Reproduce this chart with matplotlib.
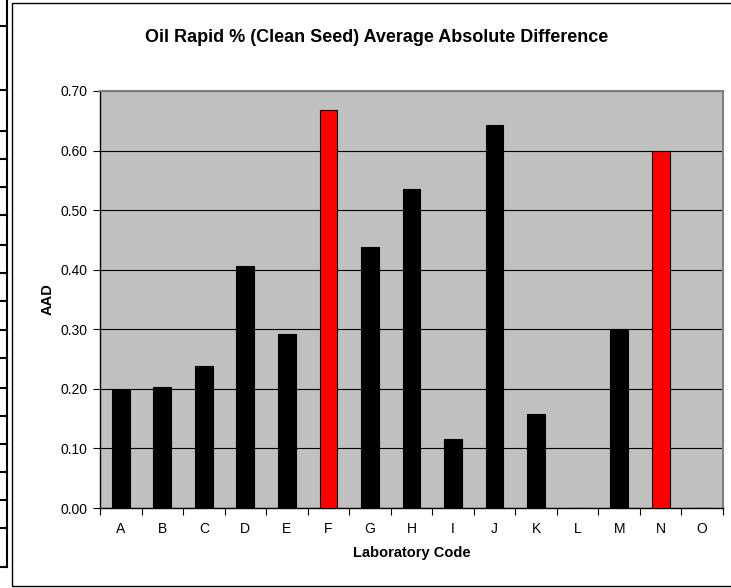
import matplotlib.pyplot as plt
from matplotlib.lines import Line2D
from matplotlib.patches import Rectangle
import numpy as np

plt.rcParams['font.family'] = ['Liberation Sans', 'DejaVu Sans']

labs = ['A', 'B', 'C', 'D', 'E', 'F', 'G', 'H', 'I', 'J', 'K', 'L', 'M', 'N', 'O']
aad = [0.198, 0.203, 0.239, 0.406, 0.292, 0.668, 0.438, 0.535, 0.116, 0.643,
       0.158, 0.0, 0.300, 0.600, 0.0]
flagged = ['F', 'N']

W, H = 731, 588
fig = plt.figure(figsize=(W / 100, H / 100), dpi=100)

# spreadsheet cell lines peeking out on the left edge
row_lines = [26, 90, 131, 159, 187, 215, 245, 273, 301, 330, 358, 388, 416,
             444, 472, 500, 528, 567]
fig.add_artist(Line2D([7 / W, 7 / W], [1, 1 - 567 / H], color='black', lw=1.5,
                      transform=fig.transFigure))
for y in row_lines:
    fig.add_artist(Line2D([0, 7 / W], [1 - y / H, 1 - y / H], color='black',
                          lw=1.5, transform=fig.transFigure))

# chart area frame
fig.add_artist(Rectangle((12 / W, 1 - 586 / H), 1.0, (586 - 3) / H,
                         transform=fig.transFigure, fill=False,
                         edgecolor='black', lw=1.0))

ax = fig.add_axes([100 / W, (H - 508) / H, 623 / W, 417 / H])
ax.set_facecolor('#c0c0c0')

x = np.arange(len(labs))
colors = ['red' if l in flagged else 'black' for l in labs]
ax.bar(x, aad, width=0.43, color=colors, edgecolor='black', linewidth=0.8,
       zorder=3)

ax.set_xlim(-0.5, len(labs) - 0.5)
ax.set_ylim(0, 0.70)
ax.set_yticks(np.arange(0, 0.71, 0.1))
ax.set_yticklabels(['%.2f' % v for v in np.arange(0, 0.71, 0.1)])
ax.yaxis.grid(True, color='black', lw=0.8, zorder=1)
ax.set_axisbelow(True)

ax.set_xticks(x)
ax.set_xticklabels(labs)
ax.set_xticks(np.arange(-0.5, len(labs)), minor=True)
ax.tick_params(axis='x', which='major', length=0, pad=10)
ax.tick_params(axis='x', which='minor', length=5, direction='out', width=0.8)
ax.tick_params(axis='y', length=5, direction='out', width=0.8, pad=4)
ax.tick_params(labelsize=10)

for s in ['left', 'bottom']:
    ax.spines[s].set_color('black')
    ax.spines[s].set_linewidth(1.0)
for s in ['top', 'right']:
    ax.spines[s].set_color('#808080')
    ax.spines[s].set_linewidth(1.5)

ax.set_xlabel('Laboratory Code', fontsize=10.5, fontweight='bold', labelpad=7)
ax.set_ylabel('AAD', fontsize=10.5, fontweight='bold', labelpad=4)
fig.text(377 / W, 1 - 38 / H, 'Oil Rapid % (Clean Seed) Average Absolute Difference',
         ha='center', va='center', fontsize=13, fontweight='bold')

fig.savefig('out.png', dpi=100)
